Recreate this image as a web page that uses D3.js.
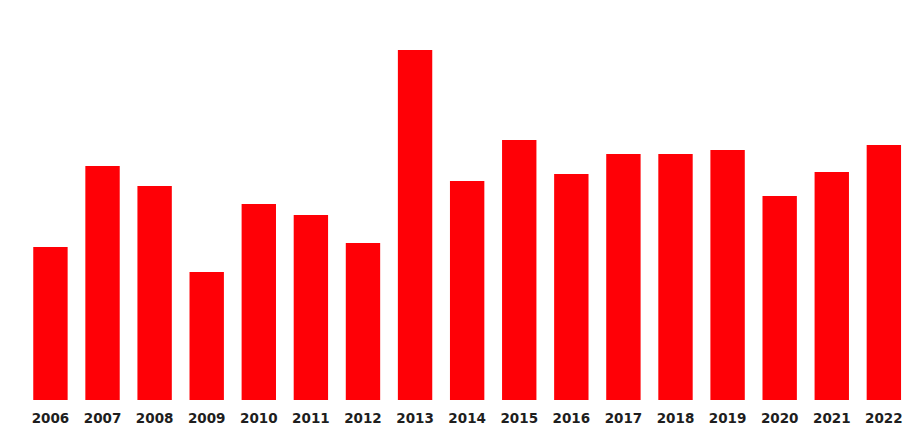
<!DOCTYPE html>
<html>
<head>
<meta charset="utf-8">
<script src="https://cdn.jsdelivr.net/npm/d3@7"></script>
<style>
  html, body { margin: 0; padding: 0; background: #ffffff; }
  svg { display: block; }
</style>
</head>
<body>
<svg id="chart" width="916" height="434"></svg>
<script>
const years = ["2006","2007","2008","2009","2010","2011","2012","2013","2014","2015","2016","2017","2018","2019","2020","2021","2022"];
const values = [153, 234, 214, 128, 196, 185, 157, 350, 219, 260, 226, 246, 246, 250, 204, 228, 255];

const svg = d3.select("#chart");
const baseline = 400;

const x = d3.scaleBand()
  .domain(years)
  .range([24.4, 909.9])
  .paddingInner(0.34)
  .paddingOuter(0.17);

const y = d3.scaleLinear()
  .domain([0, 350])
  .range([baseline, 50]);

svg.append("g")
  .selectAll("rect")
  .data(years.map((yr, i) => ({ yr, v: values[i] })))
  .join("rect")
  .attr("x", d => x(d.yr))
  .attr("y", d => y(d.v))
  .attr("width", x.bandwidth())
  .attr("height", d => baseline - y(d.v))
  .attr("fill", "#ff0006");

const axis = d3.axisBottom(x).tickSize(0).tickPadding(13);
const g = svg.append("g")
  .attr("transform", `translate(0,${baseline})`)
  .call(axis);
g.select(".domain").remove();
g.selectAll("text")
  .attr("font-family", "'DejaVu Sans', sans-serif")
  .attr("font-weight", "bold")
  .attr("font-size", 13.5)
  .attr("fill", "#1e1e1e");
</script>
</body>
</html>
